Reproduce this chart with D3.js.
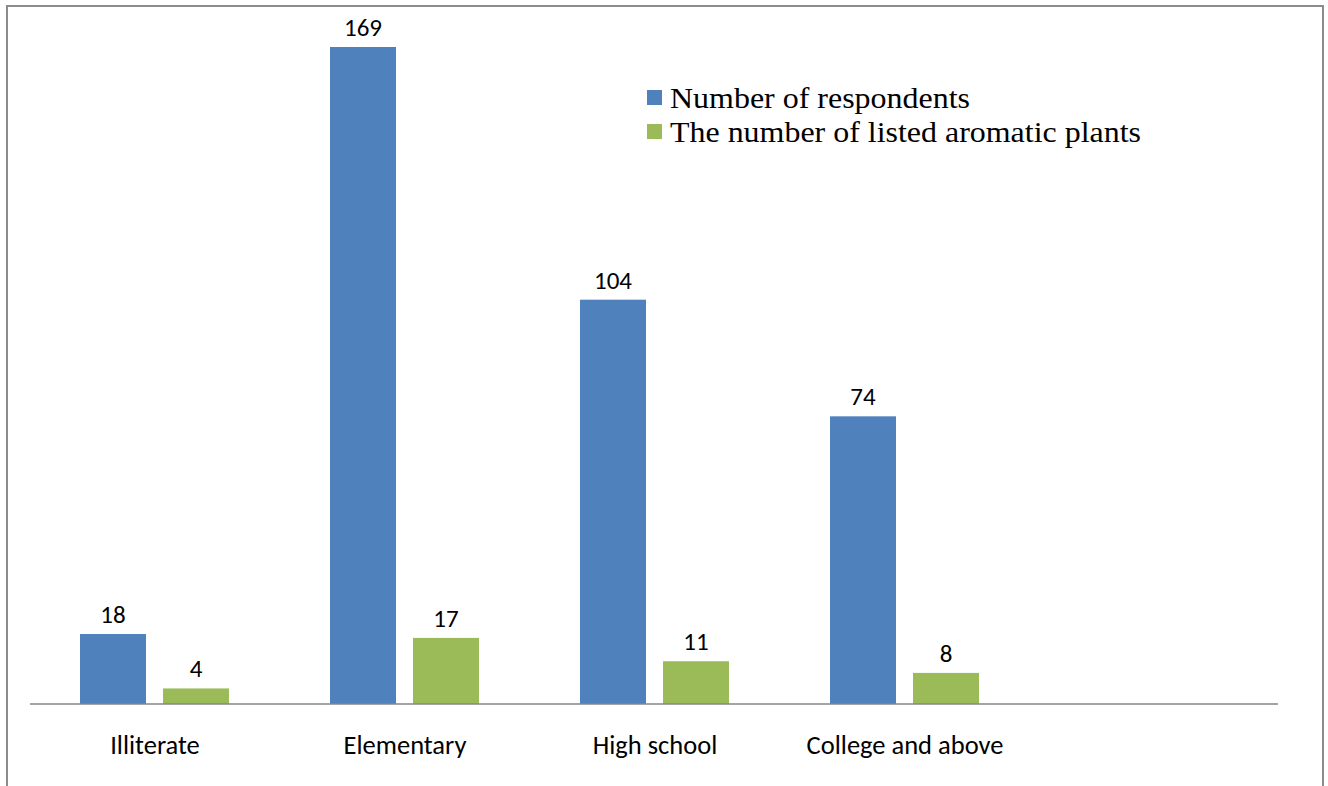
<!DOCTYPE html>
<html><head><meta charset="utf-8">
<script src="https://cdn.jsdelivr.net/npm/d3@7"></script>
<style>body{margin:0;background:#fff}</style>
</head><body>
<script>
const categories = ["Illiterate", "Elementary", "High school", "College and above", ""];
const seriesNames = ["Number of respondents", "The number of listed aromatic plants"];
const respondents = [18, 169, 104, 74];
const plants = [4, 17, 11, 8];
const colors = ["#4f81bd", "#9bbb59"];

const W = 1328, H = 786;
const svg = d3.select("body").append("svg").attr("width", W).attr("height", H);

// frame
svg.append("path").attr("d", `M7,786 V6 H1323 V786`).attr("fill", "none")
  .attr("stroke", "#8c8c8c").attr("stroke-width", 2);

const x = d3.scaleBand().domain(categories).range([30, 1280]).paddingInner(0).paddingOuter(0);
const y = d3.scaleLinear().domain([0, 169]).range([704, 47]);
const sub = d3.scaleBand().domain([0, 1]).range([50, 199]).paddingInner(0.205).paddingOuter(0);

const data = categories.slice(0, 4).map((c, i) => ({c, v: [respondents[i], plants[i]]}));
const labelFont = "Carlito, Lato, 'Open Sans', sans-serif";

const g = svg.append("g");
data.forEach(d => {
  d.v.forEach((v, s) => {
    const bx = x(d.c) + sub(s);
    g.append("rect").attr("x", bx).attr("y", y(v)).attr("width", sub.bandwidth())
      .attr("height", y(0) - y(v)).attr("fill", colors[s]);
    g.append("text").attr("x", bx + sub.bandwidth() / 2).attr("y", y(v) - 11)
      .attr("text-anchor", "middle").attr("font-family", labelFont)
      .attr("font-size", 25).attr("fill", "#000").text(v);
  });
});

// x axis
const xAxis = d3.axisBottom(x).tickSize(0).tickPadding(0);
const ax = svg.append("g").attr("transform", "translate(0,704)").call(xAxis);
ax.select(".domain").attr("stroke", "#868686").attr("stroke-width", 1.5).attr("d", "M30,0H1278");
ax.selectAll("text").attr("font-family", labelFont).attr("font-size", 26.5)
  .attr("fill", "#000").attr("dy", 0).attr("y", 50);

// legend
const lg = svg.append("g");
const legendLen = [300, 471];
seriesNames.forEach((n, i) => {
  lg.append("rect").attr("x", 647).attr("y", 90 + i * 34).attr("width", 15).attr("height", 15).attr("fill", colors[i]);
  lg.append("text").attr("x", 670).attr("y", 108 + i * 34).attr("font-family", "Liberation Serif, Times New Roman, serif")
    .attr("font-size", 30).attr("fill", "#000")
    .attr("textLength", legendLen[i]).attr("lengthAdjust", "spacingAndGlyphs").text(n);
});
</script>
</body></html>
